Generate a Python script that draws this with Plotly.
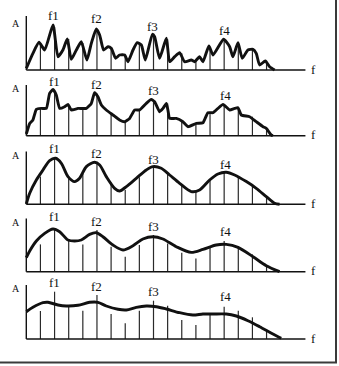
import plotly.graph_objects as go

# ---------------- data ----------------
HARMONICS = list(range(1, 18))
FORMANT_LABELS = ["f1", "f2", "f3", "f4"]

# panel 1
CURVE1_X = [0, 0.47, 0.9, 1.3, 1.89, 2.24, 2.59, 2.9, 3.18, 3.54, 3.89, 4.29, 4.6, 4.95, 5.19, 5.47, 5.78, 6.01,
            6.32, 6.6, 6.96, 7.19, 7.55, 7.85, 8.14, 8.42, 8.92, 9.08, 9.43, 9.91, 10.14, 10.5, 10.85, 11.2,
            11.67, 11.91, 12.26, 12.5, 12.92, 13.21, 13.96, 14.39, 14.62, 14.98, 15.28, 15.68, 16.04, 16.27,
            16.51, 16.91, 17.22, 17.57]
CURVE1_A = [1.7, 16.7, 27.7, 20, 45, 13.3, 20, 31, 10.7, 20, 28.3, 10, 26.7, 41, 35, 20, 23.3, 21.7,
            11.7, 15, 15, 8.3, 20, 27.3, 25, 10, 35.7, 33.3, 11.7, 31.7, 8.3, 13.3, 17.3, 8.3,
            10, 8.3, 13.3, 8.3, 24, 15, 30.7, 23.3, 13.3, 27.3, 11.7, 20, 20.7, 16.7,
            5, 9, 3.3, 0]
HARM1_A = [26.7, 43, 31, 27, 40.7, 21.7, 15, 27, 35.7, 30.7, 16.7, 9, 23.3, 30.7, 27.3, 20, 8.3]
LABEL1_X = [1.89, 4.95, 8.96, 13.99]
LABEL1_A = [55, 51.7, 43.3, 39.3]

# panel 2
CURVE2_X = [0, 0.24, 0.47, 0.71, 1.06, 1.42, 1.65, 1.89, 2.12, 2.36, 2.71, 2.95, 3.18, 3.66, 4.25, 4.6, 4.83,
            5.07, 5.31, 5.66, 6.13, 6.6, 6.96, 7.31, 7.67, 8.02, 8.49, 8.84, 9.08, 9.43, 9.67, 9.91, 10.02,
            10.14, 10.61, 11.08, 11.44, 12.03, 12.5, 12.85, 13.21, 13.56, 13.92, 14.39, 14.74, 14.98, 15.21,
            15.8, 16.27, 16.75, 16.98, 17.33, 17.45]
CURVE2_A = [1.7, 12.3, 15.7, 26.3, 27.3, 27.3, 42.3, 46.3, 40.7, 27.3, 29, 31.3, 25.7, 27.3, 27.3, 32.3, 43,
            39, 30.7, 25.7, 20.7, 15.7, 14, 17.3, 25.7, 25.7, 32.3, 36.3, 34, 24, 27.3, 32.3, 25.7,
            17.3, 17.3, 14, 9, 12.3, 13, 23, 23, 27.3, 31.3, 25.7, 27.3, 28, 20.7,
            19, 14, 9, 7.3, 0.7, 0]
HARM2_A = [27.3, 45.7, 30.7, 27.3, 42.3, 22.3, 14, 25.7, 35.7, 32.3, 15.7, 11.7, 23, 30.7, 27.3, 19, 7.3]
LABEL2_X = [1.96, 4.95, 9.0, 14.1]
LABEL2_A = [54, 51.7, 45, 40.7]

# panel 3
CURVE3_X = [0, 0.24, 0.71, 1.18, 1.65, 2.08, 2.48, 2.95, 3.42, 3.77, 4.25, 4.83, 5.19, 5.66, 6.25, 6.6, 7.08,
            7.78, 8.49, 8.96, 9.55, 10.14, 10.85, 11.67, 12.26, 12.97, 13.56, 14.15, 14.74, 15.57, 16.27,
            16.98, 17.57, 17.92]
CURVE3_A = [0.3, 11, 24.3, 34.3, 43.7, 46, 41, 27.7, 22.7, 26, 37.7, 42, 39.3, 27.7, 16, 13.3, 17.7,
            26, 34.3, 37.7, 36, 29.3, 21, 12.7, 14.3, 24.3, 30.3, 32, 29.3, 22.7, 16,
            7.7, 1, 0]
HARM3_A = [27.7, 45.3, 27.7, 31, 41.7, 21.7, 14.3, 27, 37.7, 31.7, 19.3, 13.3, 25, 32, 28.3, 20, 7.7]
LABEL3_X = [1.96, 4.95, 9.0, 14.1]
LABEL3_A = [56, 51, 45, 40.3]

# panel 4
CURVE4_X = [0, 0.24, 0.71, 1.3, 1.89, 2.36, 2.95, 3.42, 3.89, 4.48, 4.95, 5.42, 6.13, 6.84, 7.55, 8.25, 8.96,
            9.67, 10.61, 11.67, 12.5, 13.44, 14.15, 14.98, 16.04, 16.98, 17.92]
CURVE4_A = [14, 20.7, 30.7, 38.3, 42.7, 40, 31.7, 30.7, 31.7, 37.3, 39, 35, 26.7, 21.7, 26, 32.7, 35,
            32.7, 25, 19.3, 22.3, 26.7, 27.3, 24.3, 15, 6, 0]
HARM4_A = [27.3, 43.3, 30.7, 27.3, 41.7, 25, 15, 26.7, 36.7, 28.3, 19, 13.3, 25, 30.7, 25.7, 17.3, 6.7]
LABEL4_X = [1.96, 4.95, 9.0, 14.1]
LABEL4_A = [55, 50.7, 45, 40.7]

# panel 5
CURVE5_X = [0, 0.47, 1.18, 1.53, 2.24, 2.83, 3.66, 4.48, 5.07, 5.66, 6.49, 7.08, 7.78, 8.49, 9.2, 9.91, 10.85,
            11.79, 12.5, 13.21, 14.15, 14.86, 15.68, 16.51, 17.45, 18.04]
CURVE5_A = [27.3, 31.7, 36.3, 36.7, 34, 33, 33.7, 36.7, 36.7, 33, 29.7, 29, 31.7, 33, 32.3, 30, 26.3,
            24, 25, 25, 25, 23, 18.3, 12.3, 5, 0.7]
HARM5_A = [28, 47.3, 33, 28.3, 44, 25, 15.7, 28.3, 38.3, 33.3, 19, 14, 24.7, 32.3, 28.3, 21.7, 9]
LABEL5_X = [1.96, 4.95, 9.0, 14.1]
LABEL5_A = [57, 52.3, 47.3, 42.3]

PANELS = [
    dict(cx=CURVE1_X, ca=CURVE1_A, ha=HARM1_A, lx=LABEL1_X, la=LABEL1_A, smooth=0.5, atop=54, alab=47),
    dict(cx=CURVE2_X, ca=CURVE2_A, ha=HARM2_A, lx=LABEL2_X, la=LABEL2_A, smooth=0.4, atop=50.7, alab=47.3),
    dict(cx=CURVE3_X, ca=CURVE3_A, ha=HARM3_A, lx=LABEL3_X, la=LABEL3_A, smooth=0.8, atop=52.7, alab=49.3),
    dict(cx=CURVE4_X, ca=CURVE4_A, ha=HARM4_A, lx=LABEL4_X, la=LABEL4_A, smooth=0.8, atop=53.3, alab=49.3),
    dict(cx=CURVE5_X, ca=CURVE5_A, ha=HARM5_A, lx=LABEL5_X, la=LABEL5_A, smooth=0.8, atop=54, alab=50.7),
]

# ---------------- layout geometry ----------------
W, H = 339, 366
X0_PX = 26.3          # pixel of the amplitude axis
UNIT_PX = 14.133      # pixels per harmonic
BANDS = [(0, 75, 70), (75, 140, 135.7), (140, 210, 204.3), (210, 277, 271.7), (277, 345, 339)]
AXIS_END = 19.75
F_X = 20.3
A_X = -0.76
FONT = "Liberation Serif"
INK = "#111111"

fig = go.Figure()
layout = dict(width=W, height=H, margin=dict(l=0, r=0, t=0, b=0),
              paper_bgcolor="white", plot_bgcolor="white", showlegend=False)
shapes = []
annotations = []

xr = [-X0_PX / UNIT_PX, (W - X0_PX) / UNIT_PX]

for i, (p, (top, bot, base)) in enumerate(zip(PANELS, BANDS), start=1):
    xa = "x" if i == 1 else f"x{i}"
    ya = "y" if i == 1 else f"y{i}"
    xkey = "xaxis" if i == 1 else f"xaxis{i}"
    ykey = "yaxis" if i == 1 else f"yaxis{i}"
    layout[xkey] = dict(domain=[0, 1], range=xr, anchor=ya, visible=False, fixedrange=True)
    layout[ykey] = dict(domain=[1 - bot / H, 1 - top / H], range=[-(bot - base), base - top],
                        anchor=xa, visible=False, fixedrange=True)

    # harmonic lines
    hx, hy = [], []
    for h, a in zip(HARMONICS, p["ha"]):
        hx += [h, h, None]
        hy += [0, a, None]
    fig.add_trace(go.Scatter(x=hx, y=hy, mode="lines", xaxis=xa, yaxis=ya,
                             line=dict(color="#2a2a2a", width=1.2), hoverinfo="skip"))
    # envelope
    line = dict(color=INK, width=2.9, shape="spline", smoothing=p["smooth"])
    fig.add_trace(go.Scatter(x=p["cx"], y=p["ca"], mode="lines", xaxis=xa, yaxis=ya,
                             line=line, hoverinfo="skip"))

    # axes
    shapes.append(dict(type="line", xref=xa, yref=ya, x0=0, x1=AXIS_END, y0=0, y1=0,
                       line=dict(color=INK, width=1.6)))
    shapes.append(dict(type="line", xref=xa, yref=ya, x0=0, x1=0, y0=0, y1=p["atop"],
                       line=dict(color=INK, width=1.4)))

    # labels
    for t, lx, la in zip(FORMANT_LABELS, p["lx"], p["la"]):
        annotations.append(dict(x=lx, y=la, xref=xa, yref=ya, text=t, showarrow=False,
                                font=dict(family=FONT, size=13, color=INK),
                                xanchor="center", yanchor="middle"))
    annotations.append(dict(x=A_X, y=p["alab"], xref=xa, yref=ya, text="A", showarrow=False,
                            font=dict(family=FONT, size=10, color=INK),
                            xanchor="center", yanchor="middle"))
    annotations.append(dict(x=F_X, y=1, xref=xa, yref=ya, text="f", showarrow=False,
                            font=dict(family=FONT, size=13, color=INK),
                            xanchor="center", yanchor="middle"))

# frame (right and bottom edges)
shapes.append(dict(type="line", xref="paper", yref="paper", x0=336 / W, x1=336 / W, y0=1 - 362.5 / H, y1=1,
                   line=dict(color="#3a3a3a", width=2)))
shapes.append(dict(type="line", xref="paper", yref="paper", x0=0, x1=337 / W, y0=1 - 362.5 / H, y1=1 - 362.5 / H,
                   line=dict(color="#3a3a3a", width=2)))

layout["shapes"] = shapes
layout["annotations"] = annotations
fig.update_layout(**layout)
fig.write_html("out.html")
